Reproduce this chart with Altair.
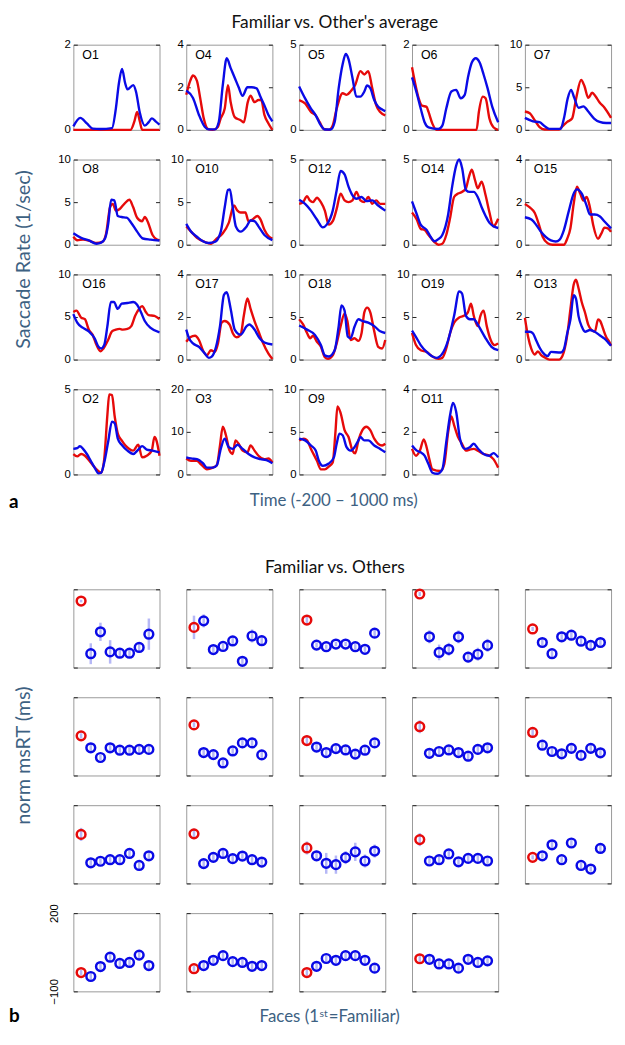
import altair as alt
import pandas as pd

# ---------------- Panel a: saccade rate curves (time in ms, rate in 1/sec) ----------------
O1_bt = [-200, -103, -12, 69, 177, 338, 392, 435, 478, 521, 553, 634, 672, 726, 795, 849, 892, 946, 1000]
O1_bv = [0.08, 0.28, 0.15, 0.03, 0.02, 0.04, 0.5, 1.1, 1.43, 1.1, 0.95, 1.05, 0.9, 0.4, 0.1, 0.18, 0.27, 0.2, 0.12]
O1_rt = [-200, 596, 650, 688, 726, 758, 1000]
O1_rv = [0, 0, 0.2, 0.42, 0.2, 0, 0]

O4_bt = [-200, -106, -23, 60, 115, 198, 253, 309, 364, 419, 475, 530, 585, 652, 712, 779, 834, 889, 945, 1000]
O4_bv = [1.85, 1.5, 0.7, 0.13, 0.02, 0.02, 0.37, 2.1, 3.36, 2.9, 2.45, 2.0, 1.6, 2.0, 2.0, 1.95, 1.55, 1.15, 0.7, 0.4]
O4_rt = [-200, -145, -106, -51, -6, 43, 99, 171, 237, 281, 336, 381, 419, 475, 558, 602, 657, 696, 751, 806, 845, 889, 945, 1000]
O4_rv = [1.65, 2.3, 2.55, 2.3, 1.5, 0.55, 0.05, 0, 0.12, 0.55, 1.0, 2.1, 1.3, 0.6, 0.45, 0.35, 1.3, 1.6, 1.3, 1.4, 1.4, 0.7, 0.3, 0]

O5_bt = [-200, -117, -35, 31, 103, 158, 240, 295, 351, 406, 450, 488, 543, 598, 653, 708, 747, 791, 846, 901, 956, 1000]
O5_bv = [2.55, 1.85, 1.25, 0.85, 0.26, 0.02, 0.02, 0.46, 2.45, 3.85, 4.45, 4.15, 3.05, 1.95, 1.95, 2.25, 2.6, 2.45, 1.75, 1.35, 1.2, 1.1]
O5_rt = [-200, -117, -35, 31, 86, 141, 213, 268, 323, 406, 461, 516, 582, 653, 708, 763, 818, 873, 929, 1000]
O5_rv = [1.75, 1.55, 1.05, 0.85, 0.45, 0.05, 0, 0.26, 1.25, 2.15, 2.05, 2.25, 2.65, 3.45, 3.25, 3.45, 2.45, 1.45, 1.05, 0.85]

O6_bt = [-200, -134, -79, -25, 30, 167, 222, 277, 348, 414, 479, 534, 578, 633, 688, 742, 797, 852, 918, 1000]
O6_bv = [1.23, 0.86, 0.5, 0.18, 0.06, 0.02, 0.1, 0.5, 0.9, 0.94, 0.74, 0.82, 1.22, 1.58, 1.68, 1.58, 1.3, 0.98, 0.54, 0.18]
O6_rt = [-200, -162, -107, -63, 3, 30, 85, 140, 699, 731, 786, 825, 879, 934, 1000]
O6_rv = [1.47, 1.14, 0.74, 0.57, 0.54, 0.42, 0.14, 0, 0, 0.42, 0.78, 0.74, 0.26, 0.06, 0]

O7_bt = [-200, -87, 4, 72, 140, 298, 343, 398, 443, 488, 547, 615, 683, 764, 841, 932, 1000]
O7_bv = [1.4, 1.0, 0.9, 0.45, 0.12, 0.12, 1.33, 3.75, 4.7, 3.75, 2.6, 2.75, 2.15, 1.33, 0.93, 0.8, 0.8]
O7_rt = [-200, -132, -64, 4, 72, 275, 321, 389, 457, 515, 583, 629, 683, 737, 783, 841, 909, 1000]
O7_rv = [2.15, 1.95, 1.13, 0.32, 0.04, 0.04, 0.4, 0.93, 1.33, 3.75, 5.85, 5.15, 3.75, 4.35, 3.95, 3.2, 2.6, 1.4]

O8_bt = [-200, -92, 15, 123, 187, 241, 284, 327, 370, 419, 473, 543, 607, 688, 769, 876, 1000]
O8_bv = [1.34, 0.8, 0.5, 0.12, 0.24, 0.73, 2.36, 5.28, 5.2, 3.37, 3.25, 3.17, 2.56, 1.54, 0.73, 0.6, 0.49]
O8_rt = [-200, -146, -65, 42, 123, 204, 257, 311, 349, 392, 446, 510, 580, 634, 688, 758, 795, 833, 903, 957, 1000]
O8_rv = [0.93, 0.53, 0.6, 0.4, 0.2, 0.32, 1.34, 4.39, 4.8, 4.0, 4.2, 4.8, 5.28, 4.39, 3.17, 2.76, 3.25, 2.76, 1.14, 0.65, 0.53]

O10_bt = [-200, -134, -51, 32, 115, 198, 281, 336, 381, 408, 447, 491, 558, 641, 696, 751, 806, 889, 1000]
O10_bv = [2.44, 1.54, 0.93, 0.4, 0.2, 0.32, 1.54, 4.4, 6.42, 6.5, 4.4, 2.15, 1.54, 2.15, 2.85, 2.76, 2.15, 1.14, 0.53]
O10_rt = [-200, -134, -51, 60, 143, 226, 309, 392, 464, 513, 558, 624, 668, 723, 790, 834, 889, 945, 1000]
O10_rv = [2.15, 1.54, 0.8, 0.32, 0.12, 0.73, 1.34, 2.56, 4.6, 4.0, 3.78, 3.78, 2.76, 2.97, 3.37, 2.97, 1.75, 1.02, 0.73]

O12_bt = [-200, -117, -35, 48, 130, 185, 268, 323, 378, 433, 488, 543, 598, 670, 736, 818, 901, 1000]
O12_bv = [2.64, 2.4, 2.0, 1.48, 1.02, 1.18, 2.0, 3.2, 4.33, 4.13, 3.41, 2.9, 2.7, 2.8, 2.56, 2.6, 2.3, 2.0]
O12_rt = [-200, -145, -90, -51, -7, 48, 103, 158, 213, 268, 323, 378, 433, 488, 543, 598, 653, 708, 763, 818, 873, 929, 1000]
O12_rv = [2.4, 2.5, 2.85, 2.6, 2.5, 2.76, 2.5, 2.0, 1.18, 1.38, 2.1, 3.0, 2.6, 2.5, 2.6, 3.1, 2.6, 2.5, 2.8, 2.4, 2.6, 2.4, 2.4]

O14_bt = [-200, -134, -79, 3, 58, 112, 167, 222, 304, 359, 414, 457, 496, 551, 605, 660, 715, 770, 825, 879, 934, 1000]
O14_bv = [2.54, 1.79, 1.18, 0.87, 0.47, 0.2, 0.33, 0.57, 1.79, 3.41, 4.63, 5.0, 4.53, 3.21, 3.1, 3.1, 2.8, 2.2, 1.69, 1.28, 1.08, 0.98]
O14_rt = [-200, -134, -79, -25, 30, 112, 167, 222, 277, 331, 386, 441, 496, 551, 594, 633, 677, 715, 770, 825, 879, 934, 973, 1000]
O14_rv = [1.89, 1.48, 0.93, 0.87, 0.57, 0.16, 0, 0.06, 0.57, 1.58, 2.8, 3.0, 3.1, 3.31, 4.0, 4.4, 3.8, 3.31, 3.7, 2.9, 1.89, 1.08, 1.28, 1.52]

O15_bt = [-200, -109, -42, 26, 94, 162, 230, 284, 343, 411, 479, 525, 592, 660, 706, 774, 841, 909, 1000]
O15_bv = [1.29, 1.18, 0.93, 0.6, 0.36, 0.2, 0.15, 0.24, 0.69, 1.58, 2.4, 2.6, 2.4, 1.83, 1.42, 1.42, 1.34, 1.09, 0.77]
O15_rt = [-200, -132, -64, 4, 49, 117, 185, 343, 389, 434, 479, 525, 570, 615, 660, 706, 751, 819, 864, 909, 955, 1000]
O15_rv = [1.91, 1.75, 1.5, 0.85, 0.36, 0.07, 0, 0, 0.28, 0.77, 1.91, 2.73, 2.4, 2.07, 2.24, 1.75, 0.93, 0.28, 0.52, 0.8, 0.77, 0.6]

O16_bt = [-200, -146, -65, 15, 96, 150, 187, 230, 274, 322, 365, 419, 473, 553, 634, 688, 742, 795, 876, 1000]
O16_bv = [5.34, 4.33, 3.72, 3.32, 2.5, 1.5, 1.3, 1.7, 3.93, 6.76, 6.76, 5.95, 6.56, 6.64, 6.76, 6.44, 5.55, 4.53, 3.72, 3.2]
O16_rt = [-200, -157, -92, -39, 15, 69, 123, 177, 220, 284, 338, 392, 446, 489, 553, 607, 661, 715, 758, 812, 849, 930, 1000]
O16_rv = [5.6, 5.75, 4.94, 4.74, 3.52, 2.9, 1.7, 0.97, 1.3, 2.3, 3.3, 3.52, 3.6, 3.52, 3.6, 3.93, 5.14, 5.95, 6.27, 5.55, 5.22, 5.14, 4.74]

O17_bt = [-200, -161, -106, -23, 60, 115, 159, 215, 270, 325, 364, 419, 475, 558, 641, 679, 751, 823, 889, 1000]
O17_bv = [1.41, 1.0, 0.76, 0.6, 0.28, 0.08, 0.15, 0.6, 1.57, 3.04, 3.16, 2.38, 1.41, 1.17, 1.57, 1.65, 1.41, 1.0, 0.8, 0.71]
O17_rt = [-200, -145, -78, -23, 32, 88, 143, 198, 242, 292, 336, 403, 447, 502, 558, 602, 652, 696, 751, 806, 862, 945, 1000]
O17_rv = [0.84, 1.05, 1.12, 0.92, 0.44, 0.2, 0.44, 0.36, 0.76, 1.73, 1.81, 1.65, 1.25, 1.05, 1.17, 2.06, 2.87, 2.38, 1.81, 1.33, 0.84, 0.28, 0.03]

O18_bt = [-200, -90, 20, 103, 158, 213, 295, 351, 389, 433, 477, 516, 571, 626, 681, 763, 846, 929, 1000]
O18_bv = [4.0, 3.52, 2.9, 1.7, 0.49, 0.36, 1.1, 3.93, 6.36, 5.75, 2.7, 2.5, 3.85, 4.74, 4.53, 4.33, 3.93, 3.32, 3.12]
O18_rt = [-200, -145, -90, -46, -7, 48, 103, 158, 202, 268, 323, 378, 433, 472, 516, 571, 626, 670, 708, 747, 791, 846, 901, 956, 1000]
O18_rv = [4.74, 4.13, 3.12, 2.5, 2.8, 2.1, 1.5, 0.28, 0.08, 0.49, 1.9, 3.93, 5.4, 4.53, 2.3, 2.5, 2.2, 3.12, 5.55, 6.1, 5.55, 3.32, 1.5, 1.3, 2.3]

O19_bt = [-200, -134, -79, 3, 85, 140, 222, 304, 386, 457, 496, 551, 605, 660, 715, 770, 825, 907, 1000]
O19_bv = [3.4, 2.5, 1.7, 0.9, 0.36, 0.2, 0.7, 2.3, 5.14, 8.0, 7.77, 5.14, 4.74, 4.74, 4.13, 3.32, 2.5, 1.5, 1.1]
O19_rt = [-200, -145, -79, 3, 85, 167, 222, 277, 331, 386, 457, 523, 578, 622, 660, 715, 753, 797, 841, 896, 951, 1000]
O19_rv = [3.12, 1.7, 1.1, 0.9, 0.36, 0.08, 0.2, 1.3, 3.12, 4.33, 4.94, 5.14, 5.55, 6.56, 5.14, 3.93, 5.14, 5.75, 3.93, 2.3, 1.7, 1.9]

O13_bt = [-200, -132, -87, -42, 4, 49, 117, 162, 298, 343, 389, 434, 479, 511, 547, 592, 638, 706, 774, 841, 909, 955, 1000]
O13_bv = [1.31, 1.31, 1.22, 0.9, 0.57, 0.33, 0.16, 0.36, 0.33, 0.49, 1.22, 1.88, 3.02, 2.86, 2.04, 1.55, 1.31, 1.39, 1.31, 1.14, 0.98, 0.82, 0.65]
O13_rt = [-200, -155, -109, -64, -19, 26, 72, 140, 275, 321, 389, 434, 479, 511, 547, 592, 638, 683, 728, 774, 819, 851, 887, 932, 977, 1000]
O13_rv = [1.96, 1.06, 0.49, 0.24, 0.38, 0.21, 0.11, 0, 0, 0.16, 1.14, 2.37, 3.51, 3.75, 3.35, 2.69, 2.2, 1.63, 1.39, 1.31, 1.88, 1.8, 1.47, 1.06, 0.82, 0.65]

O2_bt = [-200, -146, -109, -65, -12, 42, 96, 150, 187, 230, 284, 338, 376, 419, 473, 553, 634, 704, 758, 822, 903, 1000]
O2_bv = [1.5, 1.54, 1.66, 1.5, 1.2, 0.8, 0.4, 0.06, 0.1, 0.7, 1.9, 3.1, 3.0, 2.1, 1.74, 1.4, 1.2, 1.46, 1.66, 1.46, 1.4, 1.3]
O2_rt = [-200, -146, -92, -39, 42, 123, 187, 230, 274, 300, 338, 376, 419, 473, 526, 580, 634, 704, 758, 822, 892, 930, 957, 1000]
O2_rv = [1.2, 1.06, 1.2, 1.1, 0.7, 0.3, 0.1, 0.9, 3.5, 4.7, 4.66, 3.4, 2.4, 2.0, 1.7, 1.5, 1.4, 1.74, 1.0, 1.1, 1.4, 2.2, 2.0, 1.1]

O3_bt = [-200, -134, -51, 32, 88, 171, 226, 281, 336, 392, 447, 513, 585, 668, 751, 834, 917, 1000]
O3_bv = [4.0, 3.76, 3.6, 2.64, 1.6, 1.6, 2.16, 6.0, 8.4, 6.4, 6.0, 6.96, 6.0, 4.8, 4.0, 3.6, 3.36, 2.64]
O3_rt = [-200, -134, -51, 5, 88, 171, 226, 270, 309, 353, 403, 447, 486, 530, 585, 652, 696, 751, 806, 889, 945, 1000]
O3_rv = [3.76, 3.2, 3.2, 2.4, 1.2, 1.6, 2.16, 6.8, 11.2, 9.2, 5.6, 4.8, 8.0, 7.2, 5.6, 5.2, 6.8, 5.6, 4.4, 3.6, 3.76, 2.8]

O9_bt = [-200, -117, -35, 31, 75, 130, 213, 284, 323, 361, 406, 461, 516, 571, 626, 653, 708, 763, 846, 929, 1000]
O9_bv = [4.2, 4.0, 3.4, 2.8, 1.6, 1.0, 1.28, 2.0, 3.6, 4.8, 4.6, 3.2, 2.8, 3.2, 4.0, 4.4, 4.0, 4.0, 3.4, 3.0, 2.6]
O9_rt = [-200, -134, -90, -35, 48, 103, 158, 213, 268, 306, 334, 378, 433, 488, 543, 582, 626, 681, 736, 791, 846, 901, 956, 1000]
O9_rv = [4.0, 4.2, 4.0, 3.0, 1.6, 0.6, 0.6, 0.92, 1.4, 5.0, 8.0, 7.2, 5.2, 4.4, 2.8, 2.48, 4.0, 5.2, 5.6, 5.2, 4.2, 3.6, 3.4, 3.6]

O11_bt = [-200, -134, -79, -25, 30, 85, 151, 222, 277, 331, 370, 414, 468, 534, 605, 660, 715, 797, 879, 934, 1000]
O11_bv = [1.36, 1.12, 1.04, 0.88, 0.48, 0.08, 0.03, 0.24, 1.52, 2.8, 3.36, 2.96, 1.68, 1.2, 1.28, 1.44, 1.23, 0.96, 0.88, 1.0, 0.8]
O11_rt = [-200, -145, -90, -36, 3, 41, 85, 195, 249, 304, 348, 386, 441, 496, 551, 605, 660, 715, 797, 879, 934, 1000]
O11_rv = [1.2, 0.88, 1.12, 1.65, 1.28, 0.72, 0.24, 0.16, 0.48, 2.0, 2.72, 2.32, 1.76, 1.44, 1.12, 1.17, 1.2, 1.12, 0.96, 0.88, 0.72, 0.32]

panel_names = ["O1", "O4", "O5", "O6", "O7",
               "O8", "O10", "O12", "O14", "O15",
               "O16", "O17", "O18", "O19", "O13",
               "O2", "O3", "O9", "O11"]
panel_ymax = [2, 4, 5, 2, 10,
              10, 10, 5, 5, 4,
              10, 4, 10, 10, 4,
              5, 20, 10, 4]
panel_ticks = [[0, 1, 2], [0, 2, 4], [0, 5], [0, 1, 2], [0, 5, 10],
               [0, 5, 10], [0, 5, 10], [0, 5], [0, 5], [0, 2, 4],
               [0, 5, 10], [0, 2, 4], [0, 5, 10], [0, 5, 10], [0, 2, 4],
               [0, 5], [0, 10, 20], [0, 5, 10], [0, 2, 4]]

# ---------------- Panel b: norm msRT (ms), first = familiar face ----------------
msrt_row1 = [[155, -47, 37, -40, -45, -45, -23, 28],
             [54, 79, -31, -19, 2, -76, 21, 3],
             [82, -14, -20, -10, -10, -20, -30, 32],
             [182, 18, -42, -30, 18, -60, -49, -15],
             [48, -4, -47, 18, 24, 1, -15, -4]]
msrt_row2 = [[52, 6, -31, 6, -3, -3, 0, 0],
             [94, -12, -20, -52, -6, 25, 25, -21],
             [34, 9, -12, 3, -2, -18, -3, 25],
             [87, -15, -8, -2, -12, -26, 0, 6],
             [65, 16, -8, -17, 4, -23, 4, -13]]
msrt_row3 = [[88, -21, -15, -9, -9, 15, -31, 6],
             [90, -24, 0, 15, -5, 5, -9, -18],
             [36, 6, -23, -28, -1, 21, -14, 24],
             [68, -14, -9, 13, -17, -4, -4, -14],
             [0, 6, 48, -9, 55, -31, -45, 34]]
msrt_row4 = [[-28, -43, -5, 31, 7, 11, 39, -1],
             [-13, -1, 19, 37, 14, 11, -4, -1],
             [-28, -4, 26, 19, 37, 37, 19, -11],
             [25, 23, 5, 5, -11, 23, 11, 17]]
err_row1 = [[5, 40, 35, 45, 15, 15, 20, 60],
            [45, 25, 12, 10, 15, 12, 25, 20],
            [15, 10, 8, 8, 8, 10, 10, 15],
            [8, 25, 30, 25, 25, 20, 25, 25],
            [8, 15, 12, 20, 20, 15, 20, 15]]
err_row2 = [[10, 15, 10, 12, 12, 12, 12, 12],
            [10, 12, 12, 12, 12, 15, 15, 15],
            [20, 15, 18, 15, 15, 15, 15, 15],
            [25, 20, 18, 18, 18, 20, 20, 15],
            [15, 15, 15, 15, 15, 15, 15, 15]]
err_row3 = [[25, 12, 12, 12, 12, 12, 12, 15],
            [20, 15, 15, 15, 15, 15, 12, 12],
            [25, 20, 40, 35, 25, 35, 25, 25],
            [25, 12, 15, 12, 12, 12, 12, 12],
            [8, 10, 15, 10, 15, 10, 10, 15]]
err_row4 = [[10, 15, 12, 15, 12, 12, 15, 15],
            [10, 12, 12, 15, 12, 12, 12, 12],
            [12, 12, 12, 12, 12, 12, 15, 15],
            [15, 12, 12, 12, 12, 12, 12, 12]]
face_index = [1, 2, 3, 4, 5, 6, 7, 8]
msrt_ticks = [-100, 200]

# ---------------- styling ----------------
BLUE = "#0a0ae6"
RED = "#e60a0a"
EBAR = "#a9acf5"
TCOL = "#3d6182"
TFONT = "Lato"
NFONT = "Liberation Sans"
PW = 87                 # panel width (both sections)
TH, BH = 86, 79         # panel heights (top / bottom section)
GAP_H = 56              # blank row between the two sections

one_row = pd.DataFrame({"k": [0]})


def note(text, x, y, size=16, color="#111111", angle=0, align="center", weight="normal",
         font=TFONT, baseline="middle"):
    return alt.Chart(one_row).mark_text(
        text=text, fontSize=size, color=color, angle=angle, align=align,
        baseline=baseline, fontWeight=weight, font=font
    ).encode(x=alt.value(x), y=alt.value(y))


def blank(h):
    return note("", 0, 0).properties(width=PW, height=h,
                                     view=alt.ViewBackground(stroke="transparent"))


def yaxis(ticks, orient, labels=True, angle=0):
    kw = dict(values=ticks, orient=orient, title=None, grid=False, domain=False, format="d",
              ticks=True, tickSize=4, tickColor="#222222", tickWidth=1, offset=-4,
              labels=labels, labelFont=NFONT, labelFontSize=11.5, labelColor="#000000",
              labelPadding=3, minExtent=0)
    if angle:
        kw.update(labelAngle=angle, labelAlign="center", labelBaseline="bottom", labelPadding=14)
    return alt.Axis(**kw)


def top_panel(i, extras):
    name = panel_names[i]
    g = globals()
    bt, bv, rt, rv = g[name + "_bt"], g[name + "_bv"], g[name + "_rt"], g[name + "_rv"]
    ysc = alt.Scale(domain=[0, panel_ymax[i]], nice=False, zero=True)
    xenc = alt.X("t:Q", scale=alt.Scale(domain=[-200, 1000], nice=False, zero=False), axis=None)
    red = alt.Chart(pd.DataFrame({"t": rt, "v": rv})).mark_line(
        color=RED, strokeWidth=2.4, interpolate="monotone"
    ).encode(x=xenc, y=alt.Y("v:Q", scale=ysc, axis=yaxis(panel_ticks[i], "left")))
    blue = alt.Chart(pd.DataFrame({"t": bt, "v": bv})).mark_line(
        color=BLUE, strokeWidth=2.4, interpolate="monotone"
    ).encode(x=xenc, y=alt.Y("v:Q", scale=ysc, axis=yaxis(panel_ticks[i], "right", labels=False)))
    lab = note(name, 9, 10, size=12.5, font=NFONT, align="left", color="#000000")
    return alt.layer(red, blue, lab, *extras).resolve_axis(y="independent").properties(
        width=PW, height=TH)


def bottom_panel(vals, errs, extras, show_labels=False):
    df = pd.DataFrame({
        "i": face_index, "v": vals,
        "lo": [v - e for v, e in zip(vals, errs)],
        "hi": [v + e for v, e in zip(vals, errs)],
        "c": ["Familiar"] + ["Other"] * 7,
    })
    xenc = alt.X("i:Q", scale=alt.Scale(domain=[0.2, 9.1], nice=False, zero=False), axis=None)
    ysc = alt.Scale(domain=[-100, 200], nice=False, zero=False)
    bars = alt.Chart(df).mark_rule(color=EBAR, strokeWidth=2.5, opacity=0.85).encode(
        x=xenc, y=alt.Y("lo:Q", scale=ysc, axis=yaxis(msrt_ticks, "left", labels=show_labels,
                                                      angle=270 if show_labels else 0)),
        y2="hi:Q")
    pts = alt.Chart(df).mark_point(shape="circle", filled=False, size=78, strokeWidth=2.5,
                                   opacity=1).encode(
        x=xenc, y=alt.Y("v:Q", scale=ysc, axis=yaxis(msrt_ticks, "right", labels=False)),
        color=alt.Color("c:N", scale=alt.Scale(domain=["Familiar", "Other"], range=[RED, BLUE]),
                        legend=None))
    return alt.layer(bars, pts, *extras).resolve_axis(y="independent").properties(
        width=PW, height=BH)


# annotations (positions relative to the panel that carries them)
top_extras = {
    0: [note("Familiar vs. Other's average", 264, -31, size=17.5, baseline="top"),
        note("Saccade Rate (1/sec)", -50, 217, size=20, color=TCOL, angle=270)],
    15: [note("Time  (-200 \u2013 1000 ms)", 263, 113, size=17, color=TCOL),
         note("a", -65, 114, size=19, weight="bold", align="left", color="#000000")],
}
top_panels = [top_panel(i, top_extras.get(i, [])) for i in range(len(panel_names))]

b_vals = msrt_row1 + msrt_row2 + msrt_row3 + msrt_row4
b_errs = err_row1 + err_row2 + err_row3 + err_row4
bottom_extras = {
    0: [note("Familiar vs. Others", 264, -21, size=17.5),
        note("norm msRT (ms)", -50, 168, size=20, color=TCOL, angle=270)],
    15: [note("Faces (1", 248, 114, size=17, color=TCOL, align="right", baseline="bottom"),
         note("st", 248.5, 102, size=10.5, color=TCOL, align="left"),
         note("=Familiar)", 258, 114, size=17, color=TCOL, align="left", baseline="bottom"),
         note("b", -65, 114, size=19, weight="bold", align="left", color="#000000",
              baseline="bottom")],
}
bottom_panels = [bottom_panel(b_vals[i], b_errs[i], bottom_extras.get(i, []), show_labels=(i == 15))
                 for i in range(len(b_vals))]

cells = top_panels + [blank(TH)] + [blank(GAP_H) for _ in range(5)] + bottom_panels

chart = alt.concat(*cells, columns=5, spacing={"row": 30, "column": 27},
                   bounds="flush", align="each").properties(
    padding=0
).configure_view(stroke="#9a9a9a", strokeWidth=1).configure_axis(grid=False, minExtent=0)

chart.save("out.html", embed_options={"renderer": "svg", "actions": False})
